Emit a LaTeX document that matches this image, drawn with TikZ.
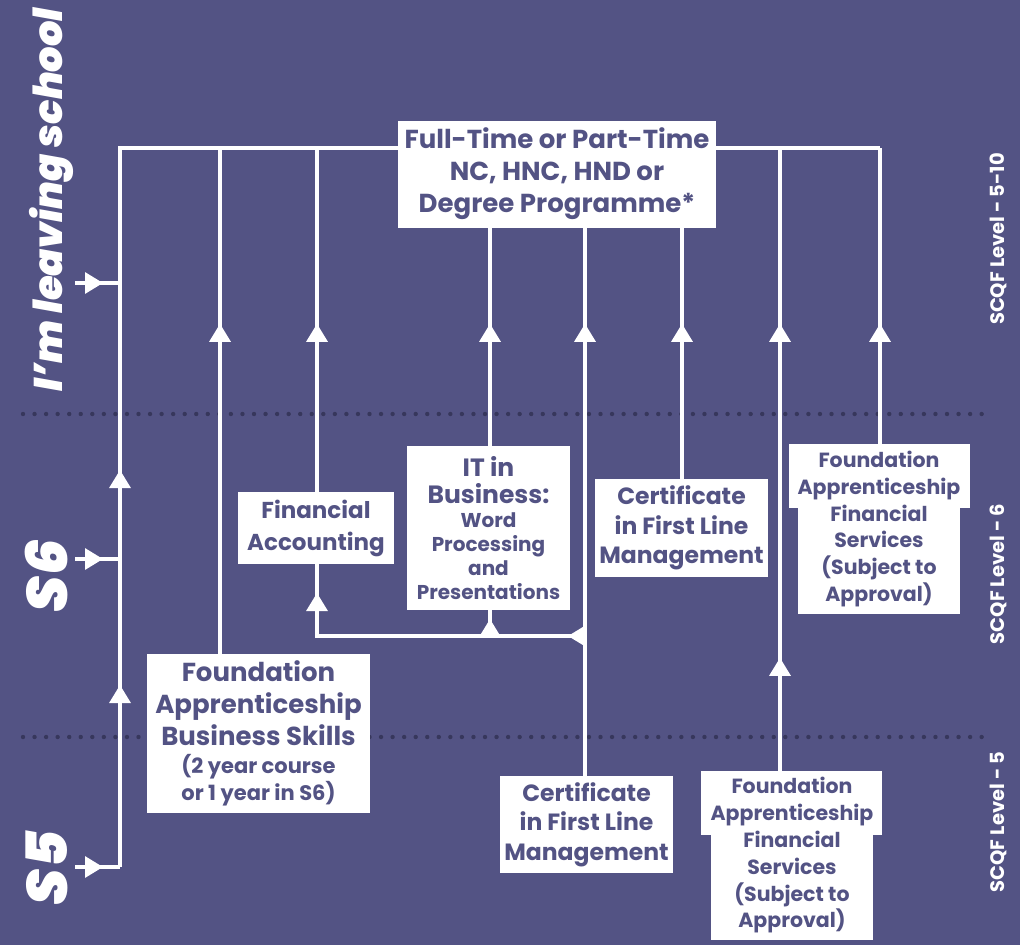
\documentclass[tikz,border=0pt]{standalone}
\usepackage{fontspec}
\setmainfont{Poppins}
\IfFontExistsTF{Poppins Black Italic}
  {\newfontfamily\heavyfont{Poppins Black Italic}}
  {\newcommand\heavyfont{\bfseries\itshape}}
\usetikzlibrary{arrows.meta,decorations.markings}
\definecolor{bg}{RGB}{83,83,132}
\definecolor{dotc}{RGB}{55,55,92}
\pgfdeclarelayer{bottom}
\pgfdeclarelayer{lines}
\pgfsetlayers{bottom,lines,main}
\tikzset{
  Tri/.tip={Triangle[length=18pt,width=21pt]},
  conn/.style={draw=white, line width=3.2pt},
  arr/.style={postaction={decorate}, decoration={markings, mark=at position #1pt with {\arrow[white]{Tri}}}},
  arrtwo/.style 2 args={postaction={decorate}, decoration={markings,
      mark=at position #1pt with {\arrow[white]{Tri}},
      mark=at position #2pt with {\arrow[white]{Tri}}}},
  box/.style={fill=white, text=bg, inner sep=0pt, align=center},
  sz/.style 2 args={font=\bfseries\fontsize{#1}{#2}\selectfont},
  dots/.style={draw=dotc, line width=4.4pt, line cap=round, dash pattern=on 0pt off 11.55pt},
  side/.style={rotate=90, anchor=base, text=white, font=\heavyfont\fontsize{#1}{#1}\selectfont},
  scqf/.style={rotate=90, anchor=base, text=white, font=\bfseries\fontsize{19.5}{19.5}\selectfont},
}
\newcommand\smalltxt[1]{{\fontsize{20}{24}\selectfont #1}}
\newcommand\fabtxt[1]{{\fontsize{21}{24}\selectfont #1}}
\begin{document}
\begin{tikzpicture}[x=1pt,y=-1pt]
\begin{pgfonlayer}{bottom}
\fill[bg] (0,0) rectangle (1020,945);
\coordinate (d1a) at (23,414); \coordinate (d1b) at (988,414);
\coordinate (d2a) at (23,737); \coordinate (d2b) at (988,737);
\draw[dots] (d1a) -- (d1b);
\draw[dots] (d2a) -- (d2b);
\end{pgfonlayer}
\useasboundingbox (0,0) rectangle (1020,945);

% side labels
\node[side=40] (leave) at (62,200) {I’m leaving school};
\node[side=57] (s6) at (67,576) {S6};
\node[side=57] (s5) at (67,868) {S5};
\node[scqf] (l1) at (1004,239) {SCQF Level - 5-10};
\node[scqf] (l2) at (1004,574) {SCQF Level - 6};
\node[scqf] (l3) at (1004,822) {SCQF Level - 5};

% coordinates
\coordinate (busL) at (120,148);
\coordinate (busR) at (880,148);
\coordinate (c220) at (220,148);
\coordinate (c317) at (317,148);
\coordinate (c780) at (780,148);
\coordinate (in1s) at (75,283); \coordinate (in1e) at (120,283);
\coordinate (in2s) at (75,559); \coordinate (in2e) at (120,559);
\coordinate (in3s) at (75,867); \coordinate (in3e) at (120,867);
\coordinate (j585) at (585,636);
\coordinate (j317) at (317,636);
\coordinate (j490) at (490,636);

% boxes
\node[box, sz={26}{32}, minimum width=318pt, minimum height=107pt] (top) at (557,174)
  {Full-Time or Part-Time\\NC, HNC, HND or\\Degree Programme*};
\node[box, sz={23}{32}, minimum width=156pt, minimum height=72pt] (fa) at (316,528)
  {Financial\\Accounting};
\node[box, sz={25}{27}, minimum width=163pt, minimum height=164pt] (it) at (488.5,528)
  {IT in\\Business:\\[-3pt]\smalltxt{Word}\\[-3pt]\smalltxt{Processing}\\[-3pt]\smalltxt{and}\\[-3pt]\smalltxt{Presentations}};
\node[box, sz={23.5}{29.5}, minimum width=173pt, minimum height=98pt] (cu) at (681.5,528)
  {Certificate\\in First Line\\Management};
\node[box, sz={23.5}{29.5}, minimum width=173pt, minimum height=97pt] (cl) at (586.5,824.5)
  {Certificate\\in First Line\\Management};
\node[box, sz={26}{32}, minimum width=223pt, minimum height=159pt] (fabs) at (258.5,733.5)
  {Foundation\\Apprenticeship\\Business Skills\\[-4pt]\fabtxt{(2 year course}\\[-5pt]\fabtxt{or 1 year in S6)}};
\fill[white] (789,444) rectangle (970,508);
\node[box, sz={20.5}{26.8}, minimum width=136pt, minimum height=170pt] (fafs1) at (879,529)
  {Foundation\\Apprenticeship\\Financial\\Services\\(Subject to\\Approval)};
\fill[white] (701,771) rectangle (882,835);
\node[box, sz={20.5}{26.8}, minimum width=136pt, minimum height=169pt] (fafs2) at (792,855.5)
  {Foundation\\Apprenticeship\\Financial\\Services\\(Subject to\\Approval)};

% connectors
\begin{pgfonlayer}{lines}
\draw[conn, arrtwo={182}{397}] (in3e) -- (busL) -- (busR);
\draw[conn, arr=28] (in1s) -- (in1e);
\draw[conn, arr=28] (in2s) -- (in2e);
\draw[conn, arr=28] (in3s) -- (in3e);
\draw[conn, arr=330] (fabs.north -| c220) -- (c220);
\draw[conn, arr=168] (fa.north -| c317) -- (c317);
\draw[conn, arrtwo={17}{311}] (j585) -- (j317) -- (fa.south -| j317);
\draw[conn, arr=17] (j490) -- (it.south -| j490);
\draw[conn, arr=122] (it.north -| j490) -- (top.south -| j490);
\draw[conn, arr=452] (cl.north -| j585) -- (top.south -| j585);
\draw[conn, arr=155] (cu.north) ++(0.5,0) coordinate (cun) (cun) -- (top.south -| cun);
\draw[conn, arrtwo={113}{447}] (fafs2.north -| c780) -- (c780);
\draw[conn, arr=120] (fafs1.north -| busR) -- (busR);
\end{pgfonlayer}
\end{tikzpicture}
\end{document}
